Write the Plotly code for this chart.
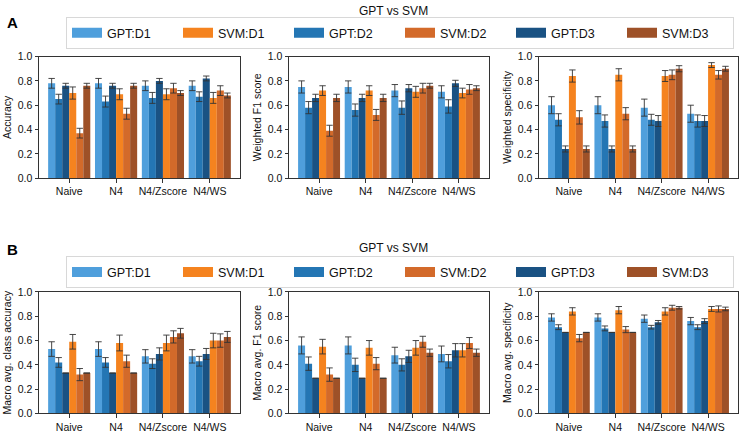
import plotly.graph_objects as go

categories = ["Naive", "N4", "N4/Zscore", "N4/WS"]
series_names = ["GPT:D1", "GPT:D2", "GPT:D3", "SVM:D1", "SVM:D2", "SVM:D3"]
legend_order = ["GPT:D1", "SVM:D1", "GPT:D2", "SVM:D2", "GPT:D3", "SVM:D3"]
colors = {"GPT:D1": "#4f9fdc", "GPT:D2": "#2476b4", "GPT:D3": "#1a5283",
          "SVM:D1": "#f5831f", "SVM:D2": "#d36a2a", "SVM:D3": "#9e5128"}

accuracy = {
    "GPT:D1": [0.78, 0.78, 0.76, 0.76], "GPT:D2": [0.65, 0.63, 0.66, 0.67], "GPT:D3": [0.76, 0.76, 0.80, 0.82],
    "SVM:D1": [0.70, 0.69, 0.69, 0.66], "SVM:D2": [0.37, 0.53, 0.74, 0.72], "SVM:D3": [0.76, 0.76, 0.70, 0.68]}
accuracy_err = {
    "GPT:D1": [0.04, 0.04, 0.04, 0.04], "GPT:D2": [0.04, 0.045, 0.045, 0.04], "GPT:D3": [0.02, 0.02, 0.02, 0.02],
    "SVM:D1": [0.05, 0.045, 0.045, 0.045], "SVM:D2": [0.04, 0.045, 0.04, 0.04], "SVM:D3": [0.02, 0.02, 0.02, 0.02]}

wf1 = {
    "GPT:D1": [0.75, 0.75, 0.72, 0.71], "GPT:D2": [0.58, 0.56, 0.58, 0.59], "GPT:D3": [0.66, 0.66, 0.74, 0.78],
    "SVM:D1": [0.72, 0.72, 0.71, 0.70], "SVM:D2": [0.39, 0.52, 0.74, 0.73], "SVM:D3": [0.66, 0.66, 0.76, 0.74]}
wf1_err = {
    "GPT:D1": [0.05, 0.05, 0.05, 0.05], "GPT:D2": [0.05, 0.05, 0.055, 0.055], "GPT:D3": [0.03, 0.03, 0.03, 0.025],
    "SVM:D1": [0.04, 0.04, 0.045, 0.04], "SVM:D2": [0.045, 0.045, 0.04, 0.04], "SVM:D3": [0.03, 0.03, 0.02, 0.02]}

wspec = {
    "GPT:D1": [0.60, 0.60, 0.58, 0.53], "GPT:D2": [0.48, 0.47, 0.48, 0.47], "GPT:D3": [0.24, 0.24, 0.47, 0.47],
    "SVM:D1": [0.84, 0.85, 0.84, 0.93], "SVM:D2": [0.50, 0.53, 0.85, 0.85], "SVM:D3": [0.24, 0.24, 0.90, 0.90]}
wspec_err = {
    "GPT:D1": [0.07, 0.07, 0.07, 0.07], "GPT:D2": [0.05, 0.05, 0.045, 0.05], "GPT:D3": [0.025, 0.025, 0.045, 0.045],
    "SVM:D1": [0.05, 0.05, 0.045, 0.02], "SVM:D2": [0.055, 0.05, 0.04, 0.035], "SVM:D3": [0.025, 0.025, 0.025, 0.02]}

macc = {
    "GPT:D1": [0.53, 0.53, 0.47, 0.47], "GPT:D2": [0.42, 0.42, 0.41, 0.43], "GPT:D3": [0.333, 0.333, 0.49, 0.49],
    "SVM:D1": [0.59, 0.58, 0.58, 0.60], "SVM:D2": [0.32, 0.43, 0.63, 0.60], "SVM:D3": [0.333, 0.333, 0.66, 0.63]}
macc_err = {
    "GPT:D1": [0.06, 0.06, 0.055, 0.055], "GPT:D2": [0.04, 0.04, 0.04, 0.04], "GPT:D3": [0.0, 0.0, 0.05, 0.045],
    "SVM:D1": [0.06, 0.065, 0.065, 0.06], "SVM:D2": [0.05, 0.05, 0.05, 0.055], "SVM:D3": [0.0, 0.0, 0.04, 0.045]}

mf1 = {
    "GPT:D1": [0.56, 0.56, 0.48, 0.49], "GPT:D2": [0.41, 0.40, 0.40, 0.43], "GPT:D3": [0.29, 0.29, 0.47, 0.52],
    "SVM:D1": [0.55, 0.54, 0.54, 0.52], "SVM:D2": [0.32, 0.41, 0.59, 0.58], "SVM:D3": [0.29, 0.29, 0.50, 0.50]}
mf1_err = {
    "GPT:D1": [0.07, 0.07, 0.065, 0.065], "GPT:D2": [0.055, 0.055, 0.05, 0.055], "GPT:D3": [0.0, 0.0, 0.05, 0.055],
    "SVM:D1": [0.06, 0.06, 0.06, 0.055], "SVM:D2": [0.055, 0.05, 0.045, 0.045], "SVM:D3": [0.0, 0.0, 0.03, 0.03]}

mspec = {
    "GPT:D1": [0.79, 0.79, 0.78, 0.76], "GPT:D2": [0.71, 0.70, 0.71, 0.71], "GPT:D3": [0.667, 0.667, 0.75, 0.76],
    "SVM:D1": [0.84, 0.85, 0.84, 0.86], "SVM:D2": [0.62, 0.69, 0.87, 0.86], "SVM:D3": [0.667, 0.667, 0.87, 0.86]}
mspec_err = {
    "GPT:D1": [0.03, 0.03, 0.03, 0.03], "GPT:D2": [0.02, 0.02, 0.015, 0.02], "GPT:D3": [0.0, 0.0, 0.015, 0.02],
    "SVM:D1": [0.03, 0.03, 0.03, 0.02], "SVM:D2": [0.03, 0.025, 0.02, 0.025], "SVM:D3": [0.0, 0.0, 0.01, 0.015]}

panels = [
    (accuracy, accuracy_err, "Accuracy"),
    (wf1, wf1_err, "Weighted F1 score"),
    (wspec, wspec_err, "Weighted specificity"),
    (macc, macc_err, "Macro avg. class accuracy"),
    (mf1, mf1_err, "Macro avg. F1 score"),
    (mspec, mspec_err, "Macro avg. specificity"),
]

FONT = "Liberation Sans, Arial, sans-serif"
W, H = 742, 437
def fx(p): return p / W
def fy(p): return 1 - p / H

col_px = [(39, 240), (289, 489), (539, 738)]
row_px = [(52, 177), (294, 419)]

fig = go.Figure()
layout_axes = {}
for i, (vals, errs, ytitle) in enumerate(panels):
    r, c = i // 3, i % 3
    n = i + 1
    xa = "x" if n == 1 else f"x{n}"
    ya = "y" if n == 1 else f"y{n}"
    for name in series_names:
        fig.add_trace(go.Bar(
            x=categories, y=vals[name], name=name, xaxis=xa, yaxis=ya,
            marker=dict(color=colors[name], line=dict(width=0)),
            error_y=dict(type="data", array=errs[name], color="#333333", thickness=0.9, width=3.2),
            showlegend=False, offsetgroup=name,
        ))
    tick = dict(size=10.5, family=FONT, color="#111")
    layout_axes[f"xaxis{'' if n == 1 else n}"] = dict(
        domain=[fx(col_px[c][0]), fx(col_px[c][1])], anchor=ya,
        range=[-0.645, 3.645], showline=True, linecolor="#333", linewidth=1, mirror=True,
        ticks="outside", ticklen=3.5, tickcolor="#333", showgrid=False, tickfont=tick)
    layout_axes[f"yaxis{'' if n == 1 else n}"] = dict(
        domain=[fy(row_px[r][1]), fy(row_px[r][0])], anchor=xa,
        range=[0, 1.0], dtick=0.2, tickformat=".1f", showline=True, linecolor="#333", linewidth=1,
        mirror=True, ticks="outside", ticklen=3.5, tickcolor="#333", showgrid=False, zeroline=False,
        tickfont=tick,
        title=dict(text=ytitle, font=dict(size=10.5, family=FONT, color="#111"), standoff=4))

# legend entries (wide patch-like swatches), one legend per row
for lg in ["legend", "legend2"]:
    for name in legend_order:
        fig.add_trace(go.Scatter(
            x=[None], y=[None], mode="lines", name=name, legend=lg,
            line=dict(color=colors[name], width=10), hoverinfo="skip",
        ))

legend_common = dict(orientation="h", xanchor="center", x=fx(400), yanchor="middle",
                     bgcolor="rgba(255,255,255,0.8)", bordercolor="#d8d8d8", borderwidth=1,
                     font=dict(size=12.5, family=FONT, color="#111"),
                     entrywidth=66, traceorder="normal")

fig.update_layout(
    width=W, height=H,
    margin=dict(l=0, r=0, t=0, b=0),
    barmode="group", bargap=0.1, bargroupgap=0,
    plot_bgcolor="white", paper_bgcolor="white",
    font=dict(family=FONT),
    legend=dict(y=fy(28), **legend_common),
    legend2=dict(y=fy(274), **legend_common),
    annotations=[
        dict(text="GPT vs SVM", x=fx(393), y=fy(5), xref="paper", yref="paper", showarrow=False,
             xanchor="center", yanchor="middle", font=dict(size=12, family=FONT, color="#111")),
        dict(text="GPT vs SVM", x=fx(393), y=fy(249), xref="paper", yref="paper", showarrow=False,
             xanchor="center", yanchor="middle", font=dict(size=12, family=FONT, color="#111")),
        dict(text="<b>A</b>", x=fx(12), y=fy(17), xref="paper", yref="paper", showarrow=False,
             xanchor="center", yanchor="middle", font=dict(size=15, family=FONT, color="#000")),
        dict(text="<b>B</b>", x=fx(12), y=fy(250), xref="paper", yref="paper", showarrow=False,
             xanchor="center", yanchor="middle", font=dict(size=15, family=FONT, color="#000")),
    ],
    **layout_axes,
)

fig.write_html("out.html", config={"displayModeBar": False},
               post_script="document.body.style.margin='0';document.body.style.overflow='hidden';")
